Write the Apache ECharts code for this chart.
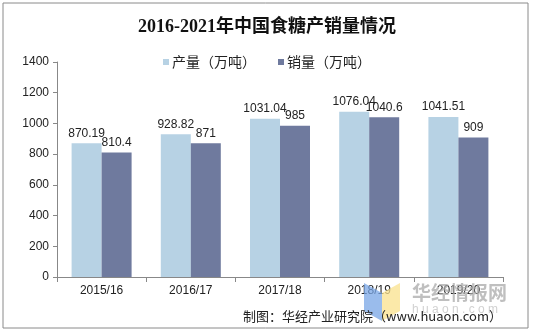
<!DOCTYPE html>
<html>
<head>
<meta charset="utf-8">
<script src="https://cdn.jsdelivr.net/npm/echarts@6/dist/echarts.min.js"></script>
<style>html,body{margin:0;padding:0;background:#fff;}#c{width:534px;height:336px;}</style>
</head>
<body>
<div id="c"></div>
<script>
var categories = ['2015/16', '2016/17', '2017/18', '2018/19', '2019/20'];
var production = [870.19, 928.82, 1031.04, 1076.04, 1041.51];
var sales = [810.4, 871, 985, 1040.6, 909];
var seriesNames = ['产量（万吨）', '销量（万吨）'];
var yTicks = [0, 200, 400, 600, 800, 1000, 1200, 1400];

var chart = echarts.init(document.getElementById('c'));
var labelStyle = { show: true, position: 'top', distance: 4, color: '#222', fontSize: 12, fontFamily: 'Liberation Sans, Arial, sans-serif' };
chart.setOption({
  backgroundColor: '#fff',
  animation: false,
  title: {
    text: '2016-2021年中国食糖产销量情况',
    left: 'center', top: 13,
    textStyle: { fontFamily: "'Liberation Serif', 'Noto Sans CJK SC', serif", fontWeight: 'bold', fontSize: 18, color: '#111' }
  },
  legend: {
    top: 50, left: 'center',
    itemWidth: 6, itemHeight: 6, itemGap: 22,
    icon: 'rect',
    textStyle: { fontFamily: "'Noto Sans CJK SC', sans-serif", fontSize: 14, color: '#222', padding: [0, 0, 0, -2] },
    data: seriesNames
  },
  grid: { left: 57, right: 31, top: 62, bottom: 59 },
  xAxis: {
    type: 'category', data: categories,
    axisLine: { lineStyle: { color: '#888' } },
    axisTick: { show: true, length: 5, lineStyle: { color: '#888' } },
    axisLabel: { color: '#222', fontSize: 12, fontFamily: 'Liberation Sans, Arial, sans-serif', margin: 8 }
  },
  yAxis: {
    type: 'value', min: yTicks[0], max: yTicks[yTicks.length - 1], interval: 200,
    axisLine: { show: true, lineStyle: { color: '#888' } },
    axisTick: { show: true, length: 4, lineStyle: { color: '#888' } },
    splitLine: { show: false },
    axisLabel: { color: '#222', fontSize: 12, fontFamily: 'Liberation Sans, Arial, sans-serif', margin: 8,
      formatter: function (v) { return String(v); } }
  },
  series: [
    { name: seriesNames[0], type: 'bar', data: production, barWidth: 30, barGap: '0%',
      itemStyle: { color: '#b7d2e4' }, label: labelStyle },
    { name: seriesNames[1], type: 'bar', data: sales, barWidth: 30, barGap: '0%',
      itemStyle: { color: '#6f7a9e' }, label: labelStyle }
  ],
  graphic: [
    { type: 'rect', shape: { x: 3, y: 3, width: 525, height: 325 }, style: { fill: 'none', stroke: '#8a8a8a', lineWidth: 1 }, z: 100 },
    { type: 'polygon', shape: { points: [[364, 283], [382, 293], [382, 321], [364, 311]] }, style: { fill: 'rgba(120,165,230,0.75)' }, z: 50 },
    { type: 'polygon', shape: { points: [[382, 293], [400, 283], [400, 311], [382, 321]] }, style: { fill: 'rgba(250,225,140,0.75)' }, z: 50 },
    { type: 'text', left: 412, top: 283, style: { text: '华经情报网', fill: 'rgba(170,170,170,0.75)', fontSize: 19, fontWeight: 'bold', fontFamily: "'Noto Sans CJK SC', sans-serif" }, z: 50 },
    { type: 'text', left: 412, top: 304, style: { text: 'h u a o n . c o m', fill: 'rgba(190,190,190,0.7)', fontSize: 12, fontFamily: 'Liberation Sans, Arial, sans-serif' }, z: 50 },
    { type: 'text', right: 32, top: 310, style: { text: '制图：华经产业研究院（www.huaon.com）', fill: '#222', fontSize: 13, fontFamily: "'Noto Sans CJK SC', sans-serif" }, z: 60 }
  ]
});
</script>
</body>
</html>
